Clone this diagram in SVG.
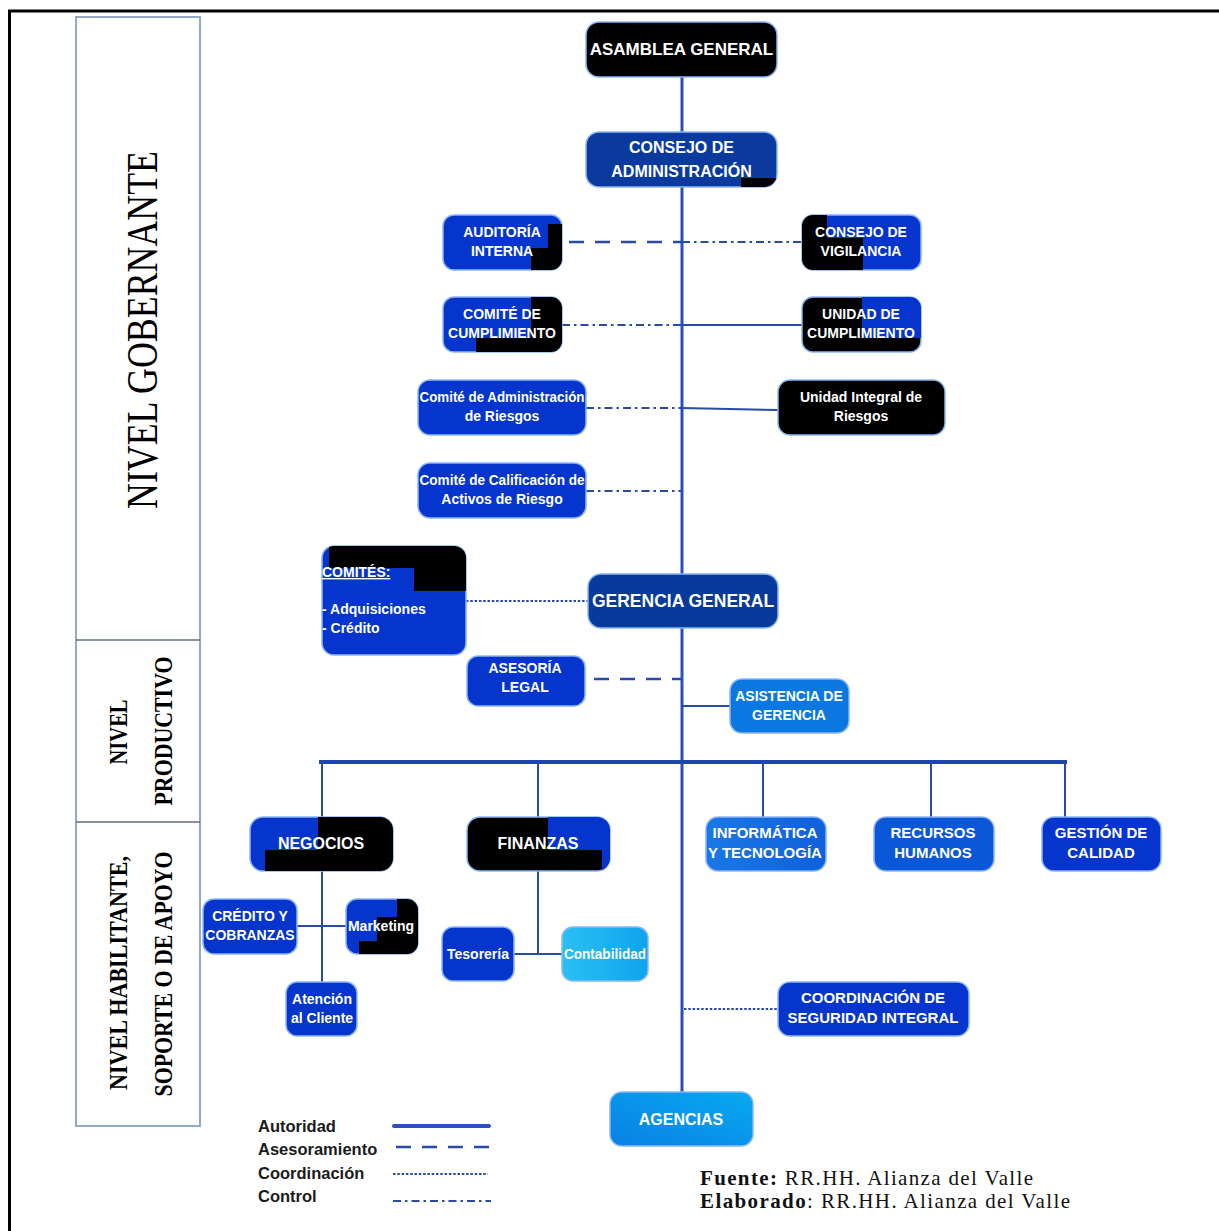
<svg xmlns="http://www.w3.org/2000/svg" width="1219" height="1231" viewBox="0 0 1219 1231">
<style>
.box{stroke:#8ab6f5;stroke-width:1.5}
.blue{fill:#0535cc}
.dark{fill:#0a3a9e}
.blk{fill:#000}
.t{font-family:"Liberation Sans",Arial,sans-serif;font-weight:bold;fill:#fff;text-anchor:middle}
.s17{font-size:17px}.s16{font-size:16px}.s15{font-size:15px}.s14{font-size:14px}
.auth{stroke:#2a4fc0;stroke-width:3;fill:none}
.auth2{stroke:#2a4aa8;stroke-width:2;fill:none}
.adv{stroke:#2a4aa8;stroke-width:2.5;stroke-dasharray:15 11;fill:none}
.coord{stroke:#2a4aa8;stroke-width:2.2;stroke-dasharray:2.5 1.8;fill:none}
.ctrl{stroke:#2a4aa8;stroke-width:2;stroke-dasharray:8 4 2.5 4;fill:none}
.lvl{font-family:"Liberation Serif","Times New Roman",serif;fill:#000;text-anchor:middle}
.lg{font-family:"Liberation Sans",Arial,sans-serif;font-weight:bold;font-size:16.5px;fill:#1a1a1a}
.src{font-family:"Liberation Serif","Times New Roman",serif;font-size:21px;fill:#111}
</style>
<defs>
<linearGradient id="gAg" x1="0" y1="1" x2="1" y2="0"><stop offset="0" stop-color="#0a80e4"/><stop offset="1" stop-color="#06aaf0"/></linearGradient>
<linearGradient id="gInf" x1="0" y1="0" x2="1" y2="0"><stop offset="0" stop-color="#1a78e6"/><stop offset="1" stop-color="#0f60dc"/></linearGradient>
<linearGradient id="gCon" x1="0" y1="0" x2="1" y2="0"><stop offset="0" stop-color="#28c0f4"/><stop offset="1" stop-color="#0ea4ee"/></linearGradient>
<clipPath id="cCA"><rect x="586" y="132" width="191" height="55" rx="13"/></clipPath>
<clipPath id="cAud"><rect x="443" y="215" width="119" height="55" rx="11"/></clipPath>
<clipPath id="cCV"><rect x="802" y="215" width="119" height="55" rx="11"/></clipPath>
<clipPath id="cCC"><rect x="443" y="297" width="119" height="55" rx="11"/></clipPath>
<clipPath id="cUC"><rect x="802" y="297" width="119" height="55" rx="11"/></clipPath>
<clipPath id="cCom"><rect x="322" y="546" width="144" height="109" rx="12"/></clipPath>
<clipPath id="cNeg"><rect x="250" y="817" width="143" height="54" rx="13"/></clipPath>
<clipPath id="cFin"><rect x="467" y="817" width="143" height="54" rx="13"/></clipPath>
<clipPath id="cMk"><rect x="346" y="899" width="72" height="55" rx="11"/></clipPath>
</defs>
<rect width="1219" height="1231" fill="#fff"/>
<path d="M9.5,1231 V11 H1219" fill="none" stroke="#000" stroke-width="3"/>

<g id="levels">
<rect x="76" y="17" width="124" height="1109" fill="none" stroke="#93a9c6" stroke-width="2"/>
<line x1="76" y1="640" x2="200" y2="640" stroke="#5f6f86" stroke-width="1.5"/>
<line x1="76" y1="822" x2="200" y2="822" stroke="#5f6f86" stroke-width="1.5"/>
<text class="lvl" transform="translate(157,330) rotate(-90)" font-size="44" textLength="358" lengthAdjust="spacingAndGlyphs">NIVEL GOBERNANTE</text>
<text class="lvl" transform="translate(127,732) rotate(-90)" font-size="25" font-weight="bold" textLength="65" lengthAdjust="spacingAndGlyphs">NIVEL</text>
<text class="lvl" transform="translate(172,731) rotate(-90)" font-size="25" font-weight="bold" textLength="149" lengthAdjust="spacingAndGlyphs">PRODUCTIVO</text>
<text class="lvl" transform="translate(127,973) rotate(-90)" font-size="25" font-weight="bold" textLength="234" lengthAdjust="spacingAndGlyphs">NIVEL HABILITANTE,</text>
<text class="lvl" transform="translate(172,974) rotate(-90)" font-size="25" font-weight="bold" textLength="245" lengthAdjust="spacingAndGlyphs">SOPORTE O DE APOYO</text>
</g>

<g id="connectors">
<line class="auth" x1="682" y1="77" x2="682" y2="1092" stroke-width="3.5"/>
<line class="adv" x1="569" y1="242" x2="682" y2="242"/>
<line class="ctrl" x1="682" y1="242" x2="802" y2="242"/>
<line class="ctrl" x1="562" y1="325" x2="682" y2="325"/>
<line class="auth2" x1="682" y1="325" x2="802" y2="325"/>
<line class="ctrl" x1="586" y1="408" x2="682" y2="408"/>
<line class="auth2" x1="682" y1="408" x2="778" y2="410"/>
<line class="ctrl" x1="586" y1="491" x2="682" y2="491"/>
<line class="coord" x1="466" y1="601" x2="588" y2="601"/>
<line class="adv" x1="594" y1="679" x2="682" y2="679"/>
<line class="auth2" x1="682" y1="706" x2="730" y2="706"/>
<line stroke="#1e46a8" stroke-width="4" x1="319" y1="762" x2="1067" y2="762"/>
<line class="auth2" x1="322" y1="762" x2="322" y2="817"/>
<line class="auth2" x1="538" y1="762" x2="538" y2="817"/>
<line class="auth2" x1="763" y1="762" x2="763" y2="817"/>
<line class="auth2" x1="931" y1="762" x2="931" y2="817"/>
<line class="auth2" x1="1065" y1="762" x2="1065" y2="817"/>
<line class="auth2" x1="322" y1="871" x2="322" y2="982"/>
<line class="auth2" x1="297" y1="926" x2="346" y2="926"/>
<line class="auth2" x1="538" y1="871" x2="538" y2="954"/>
<line class="auth2" x1="514" y1="954" x2="562" y2="954"/>
<line class="coord" x1="684" y1="1009" x2="778" y2="1009"/>
</g>

<g id="asamblea-general">
<rect class="box blk" x="586" y="22" width="191" height="55" rx="13"/>
<text class="t s17" x="681.5" y="55">ASAMBLEA GENERAL</text>
</g>
<g id="consejo-administracion">
<rect class="box dark" x="586" y="132" width="191" height="55" rx="13"/>
<rect x="741" y="178" width="40" height="12" fill="#000" clip-path="url(#cCA)"/>
<text class="t s16" x="681.5" y="153">CONSEJO DE</text>
<text class="t s16" x="681.5" y="177">ADMINISTRACIÓN</text>
</g>
<g id="auditoria-interna">
<rect class="box blue" x="443" y="215" width="119" height="55" rx="11"/>
<path d="M548,224 H565 V273 H531 V248 H548 Z" fill="#000" clip-path="url(#cAud)"/>
<text class="t s14" x="502" y="237">AUDITORÍA</text>
<text class="t s14" x="502" y="256">INTERNA</text>
</g>
<g id="consejo-vigilancia">
<rect class="box blue" x="802" y="215" width="119" height="55" rx="11"/>
<path d="M800,213 H827 V238 H863 V273 H800 Z" fill="#000" clip-path="url(#cCV)"/>
<text class="t s14" x="861" y="237">CONSEJO DE</text>
<text class="t s14" x="861" y="256">VIGILANCIA</text>
</g>
<g id="comite-cumplimiento">
<rect class="box blue" x="443" y="297" width="119" height="55" rx="11"/>
<path d="M531,295 H565 V355 H476 V338 H531 Z" fill="#000" clip-path="url(#cCC)"/>
<text class="t s14" x="502" y="319">COMITÉ DE</text>
<text class="t s14" x="502" y="338">CUMPLIMIENTO</text>
</g>
<g id="unidad-cumplimiento">
<rect class="box blk" x="802" y="297" width="119" height="55" rx="11"/>
<rect x="862" y="295" width="62" height="43" fill="#0535cc" clip-path="url(#cUC)"/>
<text class="t s14" x="861" y="319">UNIDAD DE</text>
<text class="t s14" x="861" y="338">CUMPLIMIENTO</text>
</g>
<g id="comite-admin-riesgos">
<rect class="box blue" x="418" y="380" width="168" height="55" rx="12"/>
<text class="t s14" x="502" y="402" textLength="165" lengthAdjust="spacingAndGlyphs">Comité de Administración</text>
<text class="t s14" x="502" y="421">de Riesgos</text>
</g>
<g id="unidad-integral-riesgos">
<rect class="box blk" x="778" y="380" width="167" height="55" rx="12"/>
<text class="t s14" x="861" y="402">Unidad Integral de</text>
<text class="t s14" x="861" y="421">Riesgos</text>
</g>
<g id="comite-calificacion">
<rect class="box blue" x="418" y="463" width="168" height="55" rx="12"/>
<text class="t s14" x="502" y="485" textLength="165" lengthAdjust="spacingAndGlyphs">Comité de Calificación de</text>
<text class="t s14" x="502" y="504">Activos de Riesgo</text>
</g>
<g id="comites">
<rect class="box blue" x="322" y="546" width="144" height="109" rx="12"/>
<path d="M329,543 H470 V591 H414 V568 H329 Z" fill="#000" clip-path="url(#cCom)"/>
<text class="t s14" x="322" y="577" style="text-anchor:start" text-decoration="underline">COMITÉS:</text>
<text class="t s14" x="322" y="614" style="text-anchor:start">- Adquisiciones</text>
<text class="t s14" x="322" y="633" style="text-anchor:start">- Crédito</text>
</g>
<g id="gerencia-general">
<rect class="box" fill="#073a9a" x="588" y="574" width="190" height="54" rx="13"/>
<text class="t" font-size="17.5" x="683" y="607">GERENCIA GENERAL</text>
</g>
<g id="asesoria-legal">
<rect class="box blue" x="467" y="656" width="118" height="50" rx="11"/>
<text class="t s14" x="525" y="673">ASESORÍA</text>
<text class="t s14" x="525" y="692">LEGAL</text>
</g>
<g id="asistencia-gerencia">
<rect class="box" fill="#0a78e0" x="730" y="679" width="119" height="54" rx="12"/>
<text class="t s14" x="789" y="701">ASISTENCIA DE</text>
<text class="t s14" x="789" y="720">GERENCIA</text>
</g>
<g id="negocios">
<rect class="box blue" x="250" y="817" width="143" height="54" rx="13"/>
<path d="M318,815 H396 V874 H265 V850 H318 Z" fill="#000" clip-path="url(#cNeg)"/>
<text class="t s16" x="321" y="849">NEGOCIOS</text>
</g>
<g id="finanzas">
<rect class="box blk" x="467" y="817" width="143" height="54" rx="13"/>
<path d="M548,815 H613 V874 H602 V850 H548 Z" fill="#0535cc" clip-path="url(#cFin)"/>
<text class="t s16" x="538" y="849">FINANZAS</text>
</g>
<g id="informatica-tecnologia">
<rect class="box" fill="url(#gInf)" x="706" y="817" width="120" height="54" rx="12"/>
<text class="t s15" x="765" y="838">INFORMÁTICA</text>
<text class="t s15" x="765" y="858">Y TECNOLOGÍA</text>
</g>
<g id="recursos-humanos">
<rect class="box" fill="#0a58d8" x="874" y="817" width="120" height="54" rx="12"/>
<text class="t s15" x="933" y="838">RECURSOS</text>
<text class="t s15" x="933" y="858">HUMANOS</text>
</g>
<g id="gestion-calidad">
<rect class="box blue" x="1042" y="817" width="119" height="54" rx="12"/>
<text class="t s15" x="1101" y="838">GESTIÓN DE</text>
<text class="t s15" x="1101" y="858">CALIDAD</text>
</g>
<g id="credito-cobranzas">
<rect class="box blue" x="203" y="899" width="94" height="55" rx="11"/>
<text class="t s14" x="250" y="921">CRÉDITO Y</text>
<text class="t s14" x="250" y="940">COBRANZAS</text>
</g>
<g id="marketing">
<rect class="box blue" x="346" y="899" width="72" height="55" rx="11"/>
<path d="M397,897 H421 V957 H359 V941 H377 V917 H397 Z" fill="#000" clip-path="url(#cMk)"/>
<text class="t s14" x="381" y="931">Marketing</text>
</g>
<g id="atencion-cliente">
<rect class="box blue" x="286" y="982" width="71" height="54" rx="11"/>
<text class="t s14" x="322" y="1004">Atención</text>
<text class="t s14" x="322" y="1023">al Cliente</text>
</g>
<g id="tesoreria">
<rect class="box blue" x="442" y="927" width="72" height="54" rx="11"/>
<text class="t s14" x="478" y="959">Tesorería</text>
</g>
<g id="contabilidad">
<rect class="box" fill="url(#gCon)" x="562" y="927" width="86" height="54" rx="11"/>
<text class="t s14" x="605" y="959" textLength="82" lengthAdjust="spacingAndGlyphs">Contabilidad</text>
</g>
<g id="coordinacion-seguridad">
<rect class="box blue" x="778" y="982" width="191" height="54" rx="12"/>
<text class="t s15" x="873" y="1003">COORDINACIÓN DE</text>
<text class="t s15" x="873" y="1023">SEGURIDAD INTEGRAL</text>
</g>
<g id="agencias">
<rect class="box" fill="url(#gAg)" x="610" y="1092" width="143" height="54" rx="12"/>
<text class="t s16" x="681" y="1125">AGENCIAS</text>
</g>

<g id="legend">
<text class="lg" x="258" y="1132">Autoridad</text>
<text class="lg" x="258" y="1155">Asesoramiento</text>
<text class="lg" x="258" y="1179">Coordinación</text>
<text class="lg" x="258" y="1202">Control</text>
<line x1="394" y1="1126" x2="489" y2="1126" stroke="#2a4fc0" stroke-width="4" stroke-linecap="round"/>
<line class="adv" x1="396" y1="1147" x2="490" y2="1147" stroke-dasharray="14 11"/>
<line class="coord" x1="393" y1="1174" x2="488" y2="1174" stroke-width="2"/>
<line class="ctrl" x1="393" y1="1201" x2="491" y2="1201" stroke-dasharray="7 4 2 4"/>
</g>

<g id="source">
<text class="src" x="700" y="1185" textLength="333" lengthAdjust="spacing"><tspan font-weight="bold">Fuente:</tspan> RR.HH. Alianza del Valle</text>
<text class="src" x="700" y="1208" textLength="370" lengthAdjust="spacing"><tspan font-weight="bold">Elaborado</tspan>: RR.HH. Alianza del Valle</text>
</g>
</svg>
